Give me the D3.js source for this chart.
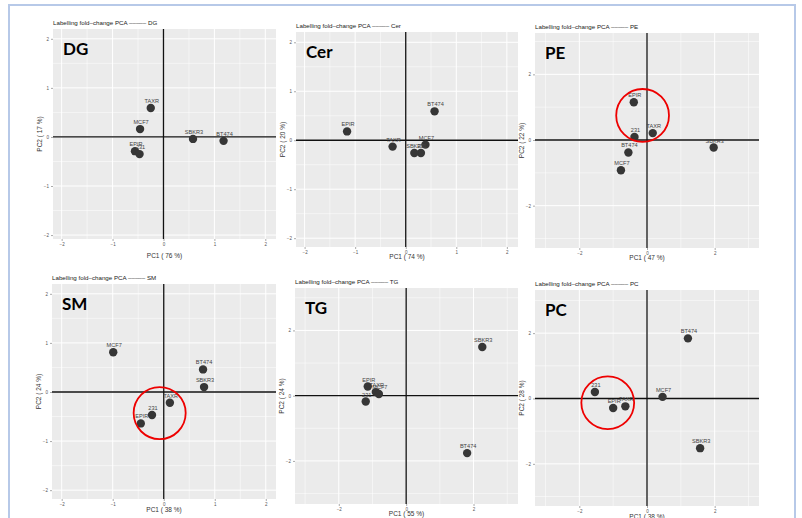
<!DOCTYPE html>
<html>
<head>
<meta charset="utf-8">
<script src="https://cdn.jsdelivr.net/npm/d3@7"></script>
<style>
  body { margin: 0; background: #fff; }
  svg { display: block; }
</style>
</head>
<body>
<div id="chart"></div>
<script>
// panel names and explained variance
var panelNames = ["DG", "Cer", "PE", "SM", "TG", "PC"];
var pc1Pct = [76, 74, 47, 38, 55, 38];
var pc2Pct = [17, 20, 22, 24, 24, 28];

// sample order used in every score array below
var samples = ["TAXR", "MCF7", "EPIR", "231", "SBKR3", "BT474"];

// PCA scores
var dgPC1 = [-0.25, -0.46, -0.56, -0.47, 0.58, 1.18];
var dgPC2 = [0.59, 0.16, -0.29, -0.35, -0.04, -0.08];
var cerPC1 = [-0.26, 0.39, -1.16, 0.30, 0.17, 0.57];
var cerPC2 = [-0.13, -0.09, 0.18, -0.26, -0.26, 0.59];
var pePC1 = [0.17, -0.77, -0.39, -0.37, 1.97, -0.55];
var pePC2 = [0.21, -0.92, 1.15, 0.09, -0.23, -0.38];
var smPC1 = [0.12, -0.99, -0.45, -0.23, 0.79, 0.77];
var smPC2 = [-0.22, 0.81, -0.64, -0.47, 0.10, 0.46];
var tgPC1 = [-0.90, -0.81, -1.14, -1.20, 2.26, 1.81];
var tgPC2 = [0.11, 0.05, 0.28, -0.18, 1.49, -1.76];
var pcPC1 = [-0.64, 0.46, -1.00, -1.54, 1.57, 1.21];
var pcPC2 = [-0.24, 0.05, -0.29, 0.20, -1.52, 1.84];

var allPC1 = [dgPC1, cerPC1, pePC1, smPC1, tgPC1, pcPC1];
var allPC2 = [dgPC2, cerPC2, pePC2, smPC2, tgPC2, pcPC2];

// axis limits and ticks
var xDomains = [[-2.17, 2.21], [-2.17, 2.22], [-3.31, 3.31], [-2.19, 2.2], [-3.3, 3.32], [-3.31, 3.31]];
var yDomains = [[-2.08, 2.2], [-2.18, 2.21], [-3.29, 3.26], [-2.18, 2.2], [-3.32, 3.3], [-3.29, 3.32]];
var smallTicks = [-2, -1, 0, 1, 2];
var smallMinor = [-1.5, -0.5, 0.5, 1.5];
var bigTicks = [-2, 0, 2];
var bigMinor = [-3, -1, 1, 3];

// highlighted groups (red circles): panel, centre pc1, centre pc2, radius in pc1 units
var circlePanels = ["PE", "SM", "PC"];
var circlePC1 = [-0.13, -0.08, -1.16];
var circlePC2 = [0.75, -0.43, -0.13];
var circleR = [0.78, 0.51, 0.78];

// plot rectangles [left, right, top, bottom, x-title baseline]
var layout = [
    [53, 276, 29, 239, 258],
    [296, 518, 32, 247, 259],
    [535, 759, 33, 248, 260],
    [52, 276, 284, 499, 512],
    [295, 518, 288, 504, 516],
    [535, 759, 290, 506, 519]
];

var W = 802, H = 518;
var svg = d3.select("#chart").append("svg")
    .attr("width", W)
    .attr("height", H);

// light blue frame
svg.append("rect")
    .attr("x", 9).attr("y", 5)
    .attr("width", 786).attr("height", 530)
    .style("fill", "none")
    .style("stroke", "#b7c9e8")
    .style("stroke-width", 2);

panelNames.forEach(function(name, p) {
    var L = layout[p];
    var big = (xDomains[p][1] > 3);
    var ticks = big ? bigTicks : smallTicks;
    var minor = big ? bigMinor : smallMinor;

    var x = d3.scaleLinear().domain(xDomains[p]).range([L[0], L[1]]);
    var y = d3.scaleLinear().domain(yDomains[p]).range([L[3], L[2]]);

    var g = svg.append("g").attr("class", "panel");

    // background
    g.append("rect")
        .attr("x", L[0]).attr("y", L[2])
        .attr("width", L[1] - L[0]).attr("height", L[3] - L[2])
        .style("fill", "#ebebeb");

    // grid
    g.selectAll(".vminor").data(minor).enter().append("line")
        .attr("x1", function(d) { return x(d); }).attr("x2", function(d) { return x(d); })
        .attr("y1", L[2]).attr("y2", L[3])
        .style("stroke", "#fff").style("stroke-width", 0.5);
    g.selectAll(".hminor").data(minor).enter().append("line")
        .attr("y1", function(d) { return y(d); }).attr("y2", function(d) { return y(d); })
        .attr("x1", L[0]).attr("x2", L[1])
        .style("stroke", "#fff").style("stroke-width", 0.5);
    g.selectAll(".vmajor").data(ticks).enter().append("line")
        .attr("x1", function(d) { return x(d); }).attr("x2", function(d) { return x(d); })
        .attr("y1", L[2]).attr("y2", L[3])
        .style("stroke", "#fff").style("stroke-width", 1);
    g.selectAll(".hmajor").data(ticks).enter().append("line")
        .attr("y1", function(d) { return y(d); }).attr("y2", function(d) { return y(d); })
        .attr("x1", L[0]).attr("x2", L[1])
        .style("stroke", "#fff").style("stroke-width", 1);

    // axes
    var xAxis = d3.axisBottom(x).tickValues(ticks).tickSize(2).tickPadding(2)
        .tickFormat(d3.format("d"));
    var yAxis = d3.axisLeft(y).tickValues(ticks).tickSize(2).tickPadding(2)
        .tickFormat(d3.format("d"));
    var xa = g.append("g").attr("transform", "translate(0," + L[3] + ")").call(xAxis);
    var ya = g.append("g").attr("transform", "translate(" + L[0] + ",0)").call(yAxis);
    [xa, ya].forEach(function(a) {
        a.select(".domain").remove();
        a.selectAll("line").style("stroke", "#555").style("stroke-width", 0.5);
        a.selectAll("text")
            .style("font-family", "Liberation Sans, Arial, sans-serif")
            .style("font-size", "4.5px")
            .style("fill", "#555");
    });

    // zero lines
    g.append("line")
        .attr("x1", x(0)).attr("x2", x(0)).attr("y1", L[2]).attr("y2", L[3])
        .style("stroke", "#111").style("stroke-width", 1.3);
    g.append("line")
        .attr("y1", y(0)).attr("y2", y(0)).attr("x1", L[0]).attr("x2", L[1])
        .style("stroke", "#111").style("stroke-width", 1.3);

    // points
    var pts = samples.map(function(s, i) {
        return { label: s, pc1: allPC1[p][i], pc2: allPC2[p][i] };
    });
    g.selectAll(".pt").data(pts).enter().append("circle")
        .attr("cx", function(d) { return x(d.pc1); })
        .attr("cy", function(d) { return y(d.pc2); })
        .attr("r", 4.2)
        .style("fill", "#363636");
    g.selectAll(".lab").data(pts).enter().append("text")
        .attr("x", function(d) { return x(d.pc1) + 1; })
        .attr("y", function(d) { return y(d.pc2) - 5; })
        .attr("text-anchor", "middle")
        .style("font-family", "Liberation Sans, Arial, sans-serif")
        .style("font-size", "5.6px")
        .style("fill", "#444")
        .text(function(d) { return d.label; });

    // red circle
    var ci = circlePanels.indexOf(name);
    if (ci >= 0) {
        g.append("circle")
            .attr("cx", x(circlePC1[ci]))
            .attr("cy", y(circlePC2[ci]))
            .attr("r", x(circleR[ci]) - x(0))
            .style("fill", "none")
            .style("stroke", "#ee0000")
            .style("stroke-width", 1.8);
    }

    // big panel tag
    g.append("text")
        .attr("x", L[0] + 10)
        .attr("y", L[2] + 26)
        .style("font-family", "Lato, Open Sans, sans-serif")
        .style("font-weight", "bold")
        .style("font-size", "17px")
        .style("fill", "#000")
        .text(name);

    // title
    g.append("text")
        .attr("x", L[0])
        .attr("y", L[2] - 4)
        .style("font-family", "Liberation Sans, Arial, sans-serif")
        .style("font-size", "6.2px")
        .style("fill", "#222")
        .text("Labelling fold\u2013change PCA \u2013\u2013\u2013\u2013\u2013 " + name);

    // axis titles
    g.append("text")
        .attr("x", (L[0] + L[1]) / 2)
        .attr("y", L[4])
        .attr("text-anchor", "middle")
        .style("font-family", "Liberation Sans, Arial, sans-serif")
        .style("font-size", "6.5px")
        .style("fill", "#333")
        .text("PC1 ( " + pc1Pct[p] + " %)");
    g.append("text")
        .attr("transform", "translate(" + (L[0] - 11) + "," + ((L[2] + L[3]) / 2) + ")rotate(-90)")
        .attr("text-anchor", "middle")
        .style("font-family", "Liberation Sans, Arial, sans-serif")
        .style("font-size", "6.5px")
        .style("fill", "#333")
        .text("PC2 ( " + pc2Pct[p] + " %)");
});
</script>
</body>
</html>
